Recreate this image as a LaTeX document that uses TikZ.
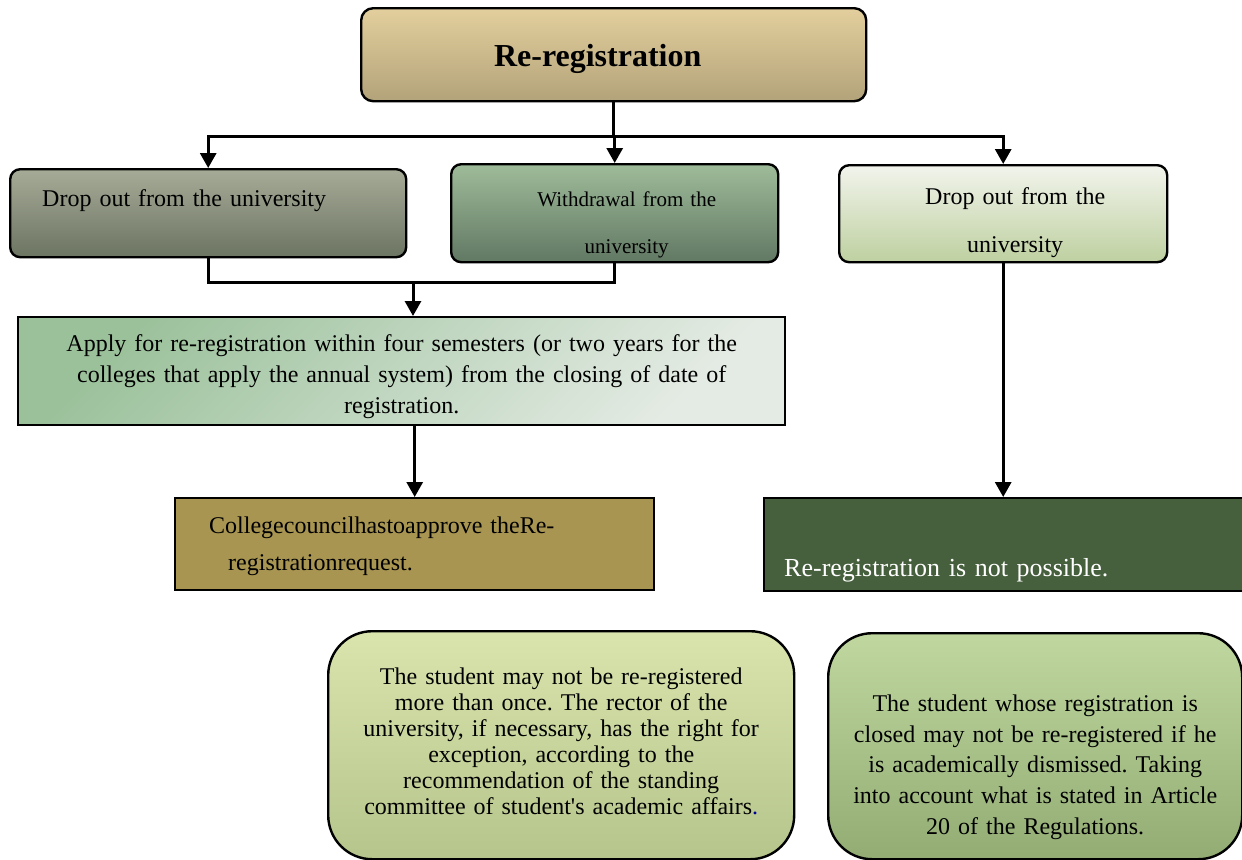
\documentclass[tikz,border=0pt]{standalone}
\usepackage{fontspec}
\setmainfont{Liberation Serif}
\usepackage{tikz}
\usetikzlibrary{arrows.meta,positioning}

\definecolor{regtop}{HTML}{E3CF9D}
\definecolor{regbot}{HTML}{B3A37A}
\definecolor{dropatop}{HTML}{A6AB97}
\definecolor{dropabot}{HTML}{6C7462}
\definecolor{withtop}{HTML}{9EBB99}
\definecolor{withbot}{HTML}{617863}
\definecolor{dropbtop}{HTML}{F2F4EC}
\definecolor{dropbbot}{HTML}{BED0A0}
\definecolor{applya}{HTML}{9BC19B}
\definecolor{applyb}{HTML}{E4EBE4}
\definecolor{councilfill}{HTML}{A89551}
\definecolor{noposfill}{HTML}{465F3C}
\definecolor{noteatop}{HTML}{DAE4AD}
\definecolor{noteabot}{HTML}{B5C58B}
\definecolor{notebtop}{HTML}{C0D8A0}
\definecolor{notebbot}{HTML}{92AC74}

\tikzset{
  box/.style={draw, line width=1.2pt, anchor=north west, inner ysep=0pt,
    font=\fontsize{12}{14}\selectfont},
  rbox/.style={box, rounded corners=5pt},
  note/.style={box, rounded corners=22pt, align=center, inner xsep=6pt},
  link/.style={line width=1.5pt},
  arr/.style={link, -{Triangle[length=7.5pt,width=8pt]}}}

\frenchspacing

\begin{document}
\begin{tikzpicture}[x=0.5pt,y=-0.5pt]
  \useasboundingbox (0,0) rectangle (1242,859);

  \node[rbox, rounded corners=6pt, top color=regtop, bottom color=regbot,
        minimum width=252.5pt, minimum height=46.5pt, text height=12pt, text depth=0.5pt,
        font=\fontsize{16}{19}\selectfont\bfseries] (reg) at (360,7) {Re-registration\hspace*{16pt}};

  \node[rbox, top color=dropatop, bottom color=dropabot, align=left, text width=166pt,
        inner xsep=16pt, minimum width=198pt, minimum height=44pt,
        text height=9pt, text depth=16pt] (drop1) at (9,168) {Drop out from the university};
  \node[rbox, top color=withtop, bottom color=withbot, align=center, text width=147.5pt,
        inner xsep=8pt, minimum width=163.5pt, minimum height=49pt,
        text height=9pt, text depth=16pt, font=\fontsize{10.5}{23.5}\selectfont]
        (withdraw) at (450,163) {\hspace*{12pt}Withdrawal from the\\\hspace*{12pt}university};
  \node[rbox, top color=dropbtop, bottom color=dropbbot, align=center, text width=148pt,
        inner xsep=8pt, minimum width=164pt, minimum height=48.5pt,
        text height=9pt, text depth=18.5pt, font=\fontsize{12}{24}\selectfont]
        (drop2) at (838,164) {\hspace*{12pt}Drop out from the\\\hspace*{12pt}university};

  % left branch
  \node[box, top color=applya, bottom color=applyb, shading angle=45, align=center,
        text width=367.5pt, inner xsep=8pt, minimum width=383.5pt, minimum height=54pt,
        text height=9pt, text depth=29pt, font=\fontsize{12}{15.5}\selectfont]
        (apply) at (17,316) {Apply for re-registration within four semesters (or two years for the\\
        colleges that apply the annual system) from the closing of date of\\ registration.};
  \node[box, fill=councilfill, align=left, text width=205.5pt, inner xsep=17pt,
        minimum width=239.5pt, minimum height=46pt, text height=9pt, text depth=20pt,
        font=\fontsize{12}{18.5}\selectfont]
        (council) at (174,497) {Collegecouncilhastoapprove theRe-\\\hspace*{9.5pt}registrationrequest.};

  % right branch
  \node[box, fill=noposfill, text=white, align=left, text width=220pt, inner xsep=10pt,
        minimum width=240pt, minimum height=46.5pt, text height=35pt, text depth=3.5pt,
        font=\fontsize{13}{16}\selectfont] (nopos) at (763,497) {Re-registration is not possible.};

  \node[note, top color=noteatop, bottom color=noteabot, text width=221pt,
        minimum width=233pt, minimum height=114pt, text height=9pt, text depth=70pt,
        font=\fontsize{12}{13}\selectfont] (note1) at (327,630)
        {The student may not be re-registered\\ more than once. The rector of the\\
         university, if necessary, has the right for\\ exception, according to the\\
         recommendation of the standing\\
         committee of student\textquotesingle s academic affairs{\color{blue!60!black}.}};
  \node[note, top color=notebtop, bottom color=notebbot, text width=195pt,
        minimum width=207pt, minimum height=113pt, text height=9pt, text depth=44pt,
        font=\fontsize{12}{15.4}\selectfont] (note2) at (827,632)
        {The student whose registration is\\ closed may not be re-registered if he\\
         is academically dismissed. Taking\\ into account what is stated in Article\\
         20 of the Regulations.};

  \coordinate (merge) at (413,282);

  \draw[link] (reg.south) -- ++(0,34) coordinate (split);
  \foreach \b in {drop1,withdraw,drop2}
    \draw[arr] (split) -| (\b.north);

  \draw[link] (drop1.south) |- (merge) -| (withdraw.south);
  \draw[arr] (merge) -- (merge |- apply.north);
  \draw[arr] (council.north |- apply.south) -- (council.north);
  \draw[arr] (drop2.south) -- (drop2.south |- nopos.north);
\end{tikzpicture}
\end{document}
